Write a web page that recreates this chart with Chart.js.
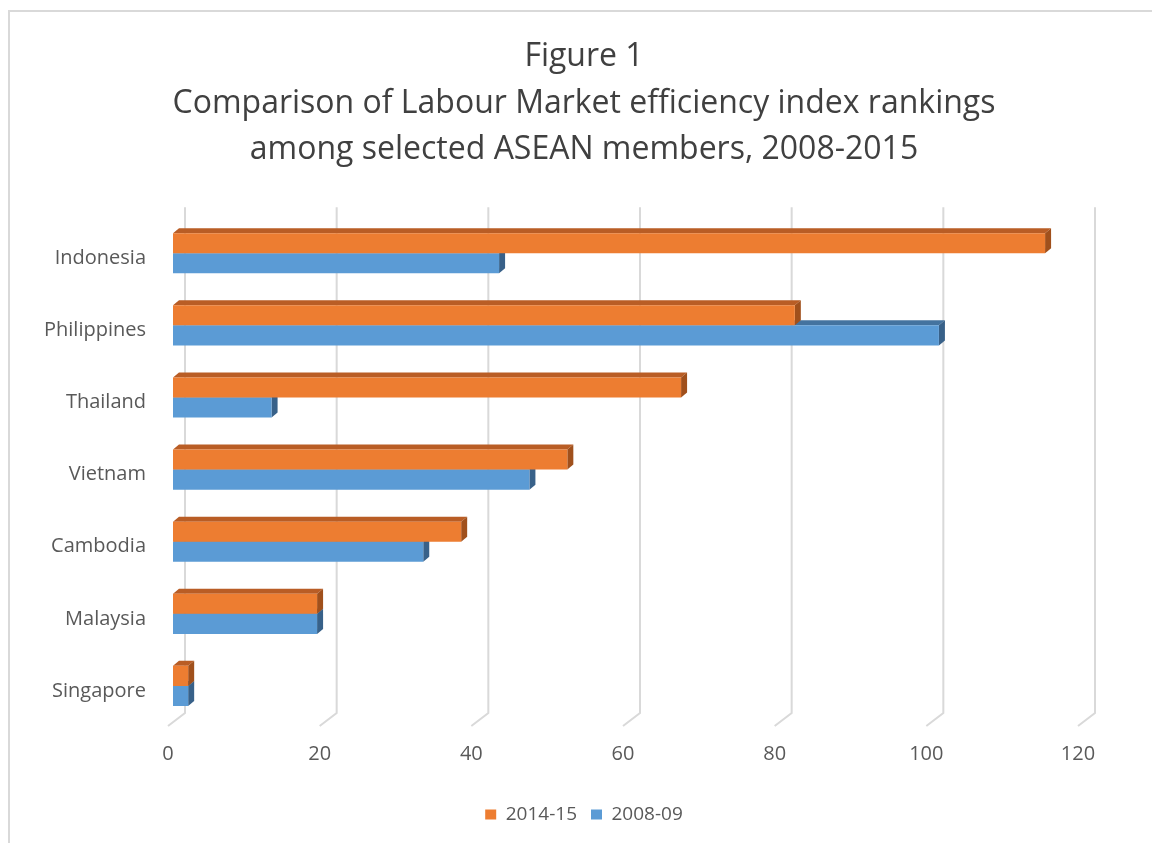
<!DOCTYPE html>
<html lang="en">
<head>
<meta charset="UTF-8">
<title>Figure 1</title>
<script src="https://cdn.jsdelivr.net/npm/chart.js@4.4.0/dist/chart.umd.min.js"></script>
<style>
  body { margin: 0; background: #fff; overflow: hidden; }
  #frame { position: absolute; left: 8px; top: 10px; width: 1200px; height: 900px;
           border-left: 2px solid #d9d9d9; border-top: 2px solid #d9d9d9; }
  #myChart { position: absolute; left: 0; top: 0; }
</style>
</head>
<body>
<div id="frame"></div>
<!-- a little wider than the window so the title sits where the original has it -->
<canvas id="myChart" width="1168" height="843"></canvas>
<script>

// data
var countries = ['Indonesia', 'Philippines', 'Thailand', 'Vietnam', 'Cambodia', 'Malaysia', 'Singapore']
var rank2014 = [115, 82, 67, 52, 38, 19, 2]
var rank2008 = [43, 101, 13, 47, 33, 19, 2]
var xTicks = [0, 20, 40, 60, 80, 100, 120]
var seriesNames = ['2014-15', '2008-09']

// front / top / side colours for the fake 3d look
var orange = ['#ED7D31', '#B95D25', '#A0501C']
var blue = ['#5B9BD5', '#44739F', '#386189']

Chart.defaults.font.family = "'Open Sans', sans-serif"
Chart.defaults.color = '#595959'

// draws the back wall gridlines + the top and side faces of every bar
var fake3d = {
  id: 'fake3d',
  beforeDatasetsDraw(chart) {
    var ctx = chart.ctx
    var xs = chart.scales.x
    var area = chart.chartArea
    ctx.save()
    ctx.strokeStyle = '#d9d9d9'
    ctx.lineWidth = 2
    xTicks.forEach(v => {
      var px = xs.getPixelForValue(v)
      ctx.beginPath()
      ctx.moveTo(px + 12, area.top - 10)
      ctx.lineTo(px + 12, area.bottom - 9)
      ctx.lineTo(px - 5, area.bottom + 4)
      ctx.stroke()
    })

    var dx = 6, dy = 5
    var cols = [orange, blue]
    ;[1, 0].forEach(di => {
      var meta = chart.getDatasetMeta(di)
      meta.data.forEach(bar => {
        var p = bar.getProps(['x', 'y', 'base', 'height'], true)
        var top = p.y - p.height / 2
        var bottom = p.y + p.height / 2
        ctx.fillStyle = cols[di][1]
        ctx.beginPath()
        ctx.moveTo(p.base, top)
        ctx.lineTo(p.x, top)
        ctx.lineTo(p.x + dx, top - dy)
        ctx.lineTo(p.base + dx, top - dy)
        ctx.closePath()
        ctx.fill()
        ctx.fillStyle = cols[di][2]
        ctx.beginPath()
        ctx.moveTo(p.x, top)
        ctx.lineTo(p.x + dx, top - dy)
        ctx.lineTo(p.x + dx, bottom - dy)
        ctx.lineTo(p.x, bottom)
        ctx.closePath()
        ctx.fill()
      })
    })
    ctx.restore()
  }
}

var ctx = document.getElementById('myChart')
var myChart = new Chart(ctx.getContext('2d'), {
  type: 'bar',
  data: {
    labels: countries,
    datasets: [{
      label: seriesNames[0],
      data: rank2014,
      backgroundColor: orange[0],
      borderWidth: 0
    }, {
      label: seriesNames[1],
      data: rank2008,
      backgroundColor: blue[0],
      borderWidth: 0
    }]
  },
  options: {
    indexAxis: 'y',
    responsive: false,
    animation: false,
    layout: { padding: { left: 0, right: 0, top: 0, bottom: 9 } },
    categoryPercentage: 0.557,
    barPercentage: 1.0,
    scales: {
      x: {
        min: 0,
        max: 120,
        grid: { display: false, drawTicks: false },
        border: { display: false },
        ticks: { stepSize: 20, padding: 20, labelOffset: -5, font: { size: 20 }, color: '#595959' },
        afterFit: (s) => { s.height = 69 }
      },
      y: {
        grid: { display: false, drawTicks: false },
        border: { display: false },
        ticks: { padding: 27, labelOffset: 5, font: { size: 20 }, color: '#595959' },
        afterFit: (s) => { s.width = 173 }
      },
      // empty spacer on the right, keeps the plot right edge at the same place
      spacer: {
        type: 'linear',
        position: 'right',
        grid: { display: false, drawTicks: false },
        border: { display: false },
        ticks: { display: false },
        afterFit: (s) => { s.width = 85 }
      }
    },
    plugins: {
      title: {
        display: true,
        text: ['Figure 1', 'Comparison of Labour Market efficiency index rankings', 'among selected ASEAN members, 2008-2015'],
        font: { size: 32, weight: 'normal', lineHeight: 1.45 },
        color: '#404040',
        padding: { top: 34, bottom: 44 }
      },
      legend: {
        position: 'bottom',
        labels: { boxWidth: 11, boxHeight: 10, font: { size: 19 }, color: '#595959', padding: 14 }
      },
      tooltip: { enabled: false }
    }
  },
  plugins: [fake3d]
})
</script>
</body>
</html>
